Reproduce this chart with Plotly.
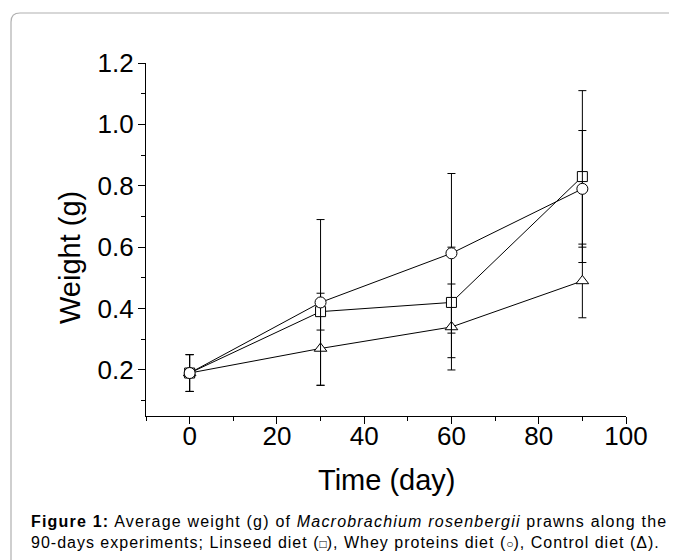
import plotly.graph_objects as go

# ---- data ----
days = [0, 30, 60, 90]
linseed = [0.19, 0.39, 0.42, 0.83]
linseed_err = [0.06, 0.06, 0.18, 0.28]
whey = [0.19, 0.42, 0.58, 0.79]
whey_err = [0.06, 0.27, 0.26, 0.19]
control = [0.19, 0.27, 0.34, 0.49]
control_err = [0.06, 0.12, 0.14, 0.12]

x_ticks = [0, 20, 40, 60, 80, 100]
y_ticks = [0.2, 0.4, 0.6, 0.8, 1.0, 1.2]

OFF = 8                      # page body margin
W, H = 677 - OFF, 560 - OFF
L, R, T, B = 146, 626, 63, 416  # plot area in screen px


def px(x):
    return (x - L) / (R - L)


def py(y):
    return (B - y) / (B - T)


FONT = "Arial, Liberation Sans, sans-serif"

fig = go.Figure()


def add(name, ys, errs, symbol, size):
    fig.add_trace(go.Scatter(
        x=days, y=ys, name=name, mode="lines+markers",
        line=dict(color="black", width=1),
        marker=dict(symbol=symbol, size=size, color="white",
                    line=dict(color="black", width=1)),
        error_y=dict(type="data", array=errs, visible=True,
                     color="black", thickness=1, width=4),
        showlegend=False,
    ))


add("Control diet", control, control_err, "triangle-up", 11)
add("Linseed diet", linseed, linseed_err, "square", 10)
add("Whey proteins diet", whey, whey_err, "circle", 11)

axis_common = dict(
    showline=True, linecolor="black", linewidth=1.3, mirror=False,
    ticks="outside", ticklen=7, tickwidth=1, tickcolor="black",
    showgrid=False, zeroline=False,
    tickfont=dict(family=FONT, size=26, color="black"),
)

fig.update_xaxes(range=[-10, 100], tickvals=x_ticks, ticklabelstandoff=-10,
                 minor=dict(dtick=10, tick0=0, ticks="outside", ticklen=4,
                            tickcolor="black", tickwidth=1, showgrid=False),
                 **axis_common)
fig.update_yaxes(range=[0.05, 1.2], tickvals=y_ticks, tickformat=".1f",
                 ticklabelstandoff=-1,
                 minor=dict(dtick=0.1, tick0=0, ticks="outside", ticklen=4,
                            tickcolor="black", tickwidth=1, showgrid=False),
                 **axis_common)

# rounded frame (cropped at right and bottom)
r = 9
x0, y0, x1, y1 = 11, 13, 720, 620
path = (f"M {px(x0)},{py(y1)} L {px(x0)},{py(y0 + r)} "
        f"Q {px(x0)},{py(y0)} {px(x0 + r)},{py(y0)} L {px(x1)},{py(y0)}")
fig.add_shape(type="path", path=path, xref="paper", yref="paper",
              line=dict(color="#b0b0b0", width=1.2), layer="below")

LS1 = "letter-spacing:1.2px"
LS2 = "letter-spacing:1.0px"
cap1 = (f"<span style='{LS1}'><b>Figure 1:</b> Average weight (g) of "
        f"<i>Macrobrachium rosenbergii</i> prawns along the</span>")
cap2 = (f"<span style='{LS2}'>90-days experiments; Linseed diet (</span>"
        f"<span style='font-size:12px'>□</span>"
        f"<span style='{LS2}'>), Whey proteins diet (</span>"
        f"<span style='font-size:12px'>○</span>"
        f"<span style='{LS2}'>), Control diet (Δ).</span>")

annotations = [
    dict(text="Time (day)", x=px(387), y=py(480), xanchor="center",
         yanchor="middle", font=dict(family=FONT, size=29, color="black")),
    dict(text="Weight (g)", x=px(70), y=py(258), xanchor="center",
         yanchor="middle", textangle=-90,
         font=dict(family=FONT, size=29, color="black")),
    dict(text=cap1, x=px(29), y=py(521), xanchor="left", yanchor="middle",
         font=dict(family=FONT, size=16, color="black")),
    dict(text=cap2, x=px(29), y=py(542), xanchor="left", yanchor="middle",
         font=dict(family=FONT, size=16, color="black")),
]
for a in annotations:
    a.update(xref="paper", yref="paper", showarrow=False)
fig.update_layout(annotations=annotations)

fig.update_layout(
    width=W, height=H,
    margin=dict(l=L - OFF, r=W - (R - OFF), t=T - OFF, b=H - (B - OFF), pad=0),
    paper_bgcolor="white", plot_bgcolor="white",
    font=dict(family=FONT, color="black"),
)

fig.write_html("out.html")
